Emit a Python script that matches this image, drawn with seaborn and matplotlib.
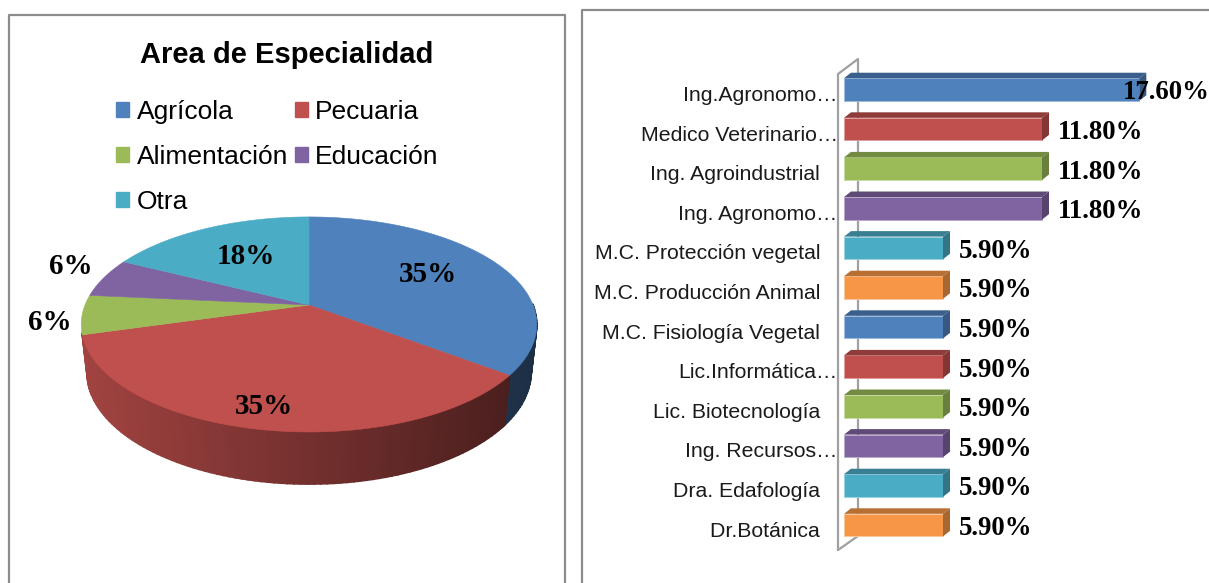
import numpy as np
import pandas as pd
import seaborn as sns
import matplotlib.pyplot as plt
from matplotlib.colors import to_rgb
from matplotlib.patches import Polygon, Patch
from matplotlib.transforms import ScaledTranslation

#pie data
areas = ['Agrícola', 'Pecuaria', 'Alimentación', 'Educación', 'Otra']
area_pct = [35.3, 35.3, 5.9, 5.9, 17.6]
area_colors = ['#4f81bd', '#c0504d', '#9bbb59', '#8064a2', '#4bacc6']

#bar data
careers = ['Ing.Agronomo…', 'Medico Veterinario…', 'Ing. Agroindustrial', 'Ing. Agronomo…',
           'M.C. Protección vegetal', 'M.C. Producción Animal', 'M.C. Fisiología Vegetal',
           'Lic.Informática…', 'Lic. Biotecnología', 'Ing. Recursos…', 'Dra. Edafología', 'Dr.Botánica']
career_pct = [17.6, 11.8, 11.8, 11.8, 5.9, 5.9, 5.9, 5.9, 5.9, 5.9, 5.9, 5.9]
bar_colors = ['#4f81bd', '#c0504d', '#9bbb59', '#8064a2', '#4bacc6', '#f79646',
              '#4f81bd', '#c0504d', '#9bbb59', '#8064a2', '#4bacc6', '#f79646']

sns.set_style('white')
plt.rcParams['font.family'] = ['Liberation Sans', 'DejaVu Sans']
plt.rcParams['text.color'] = 'black'
serif = ['Liberation Serif', 'DejaVu Serif']

fig = plt.figure(figsize=(12.09, 5.83), dpi=100)

#background axes in pixels, for frames, pie and the bar wall
bg = fig.add_axes([0, 0, 1, 1])
bg.set_xlim(0, 1209)
bg.set_ylim(583, 0)
bg.axis('off')

frame = '#8c8c8c'
bg.plot([9, 9, 565, 565], [583, 15, 15, 583], color=frame, lw=1.6)
bg.plot([582, 582, 1209], [583, 10, 10], color=frame, lw=1.6)

#wall behind the bars
wall = '#a0a0a0'
bg.plot([838, 838, 858, 858], [550, 74, 59, 536], color=wall, lw=1.6)
bg.plot([838, 858], [550, 536], color=wall, lw=1.6)


def shade(c, f):
    return tuple(v * f for v in to_rgb(c))


#3d look of the pie: perspective projection of the unit circle
def project(turn, r=1.0):
    a = np.asarray(turn) * 2 * np.pi
    x, y = r * np.sin(a), r * np.cos(a)
    w = 1 + 0.181 * y
    return 224 * x / w, -104 * y / w


cx, cy = 309, 305
edges = np.cumsum([0] + area_pct) / sum(area_pct)

#side wall, only the first two wedges reach the front
for i in range(2):
    steps = np.arange(edges[i], edges[i + 1] + 0.004, 0.004)
    for t0, t1 in zip(steps[:-1], steps[1:]):
        x, y = project([t0, t1])
        if y.max() < 0:
            continue
        xl, yl = x * 0.975, y * 1.04 + 47
        f = np.interp(x.mean(), [-228, 228], [0.84, 0.36])
        bg.fill([cx + x[0], cx + x[1], cx + xl[1], cx + xl[0]],
                [cy + y[0], cy + y[1], cy + yl[1], cy + yl[0]],
                color=shade(area_colors[i], f), lw=1.2, zorder=2)

#top surface
for i in range(len(areas)):
    t = np.linspace(edges[i], edges[i + 1], 80)
    x, y = project(t)
    bg.fill(np.r_[cx, cx + x], np.r_[cy, cy + y], color=area_colors[i], lw=0.4, zorder=3)

pct_xy = [(428, 275), (264, 406), (50, 323), (71, 267), (246, 256)]
for p, (px, py) in zip(area_pct, pct_xy):
    bg.text(px, py, f'{p:.0f}%', ha='center', va='center', fontsize=21,
            fontweight='bold', family=serif, color='black', zorder=5)

bg.text(287, 55, 'Area de Especialidad', ha='center', va='center', fontsize=21, fontweight='bold')

#legend fills column by column
order = [0, 2, 4, 1, 3]
handles = [Patch(color=area_colors[i], label=areas[i]) for i in order]
bg.legend(handles=handles, ncol=2, loc='upper left', bbox_to_anchor=(116 / 1209, 1 - 100 / 583),
          frameon=False, fontsize=19, handlelength=0.5, handleheight=0.5, handletextpad=0.28,
          labelspacing=0.8, columnspacing=0.25, borderpad=0, borderaxespad=0)

#bars, the axes is lined up to the pixel grid
px_per_pct = (1042 - 844) / 11.8
row = 39.6
ax = fig.add_axes([844 / 1209, 0, 365 / 1209, 1])
ax.patch.set_alpha(0)

df = pd.DataFrame({'career': careers, 'pct': career_pct})
sns.barplot(data=df, y='career', x='pct', hue='career', palette=bar_colors, orient='h',
            width=0.57, saturation=1, legend=False, ax=ax)
ax.set_xlim(0, 365 / px_per_pct)
ax.set_ylim((583 - 89.5) / row, -89.5 / row)
ax.set_xticks([])
ax.set_xlabel('')
ax.set_ylabel('')
sns.despine(ax=ax, left=True, bottom=True)

short = {'Ing. Agroindustrial', 'M.C. Protección vegetal', 'M.C. Producción Animal',
         'M.C. Fisiología Vegetal', 'Lic. Biotecnología', 'Dra. Edafología', 'Dr.Botánica'}
ax.set_yticks(range(len(careers)))
ax.set_yticklabels([c + '\u00a0\u00a0\u00a0' if c in short else c for c in careers])
ax.tick_params(axis='y', length=0, pad=4.5, labelsize=15.3, labelcolor='#1a1a1a')

#labels sit a bit below the bar centre
down = ScaledTranslation(0, -4 / 100, fig.dpi_scale_trans)
for lab in ax.get_yticklabels():
    lab.set_transform(lab.get_transform() + down)

dx, dy = 7 / px_per_pct, 5.5 / row
for cont, color, v in zip(ax.containers, bar_colors, career_pct):
    b = cont[0]
    y0, y1, w = b.get_y(), b.get_y() + b.get_height(), b.get_width()
    b.set_edgecolor(tuple(0.55 * c + 0.45 for c in to_rgb(color)))
    b.set_linewidth(0.7)
    ax.add_patch(Polygon([(0, y0), (w, y0), (w + dx, y0 - dy), (dx, y0 - dy)],
                         color=shade(color, 0.74), lw=0))
    ax.add_patch(Polygon([(w, y0), (w + dx, y0 - dy), (w + dx, y1 - dy), (w, y1)],
                         color=shade(color, 0.68), lw=0))
    pad = -11.5 if v > 15 else 11.5
    anns = ax.bar_label(cont, labels=[f'{v:.2f}%'], padding=pad, fontsize=19.3, fontweight='bold',
                        family=serif, color='black', zorder=6)
    for a in anns:
        a.xyann = (a.xyann[0], a.xyann[1] - 2.4)

fig.savefig('out.png', dpi=100)
